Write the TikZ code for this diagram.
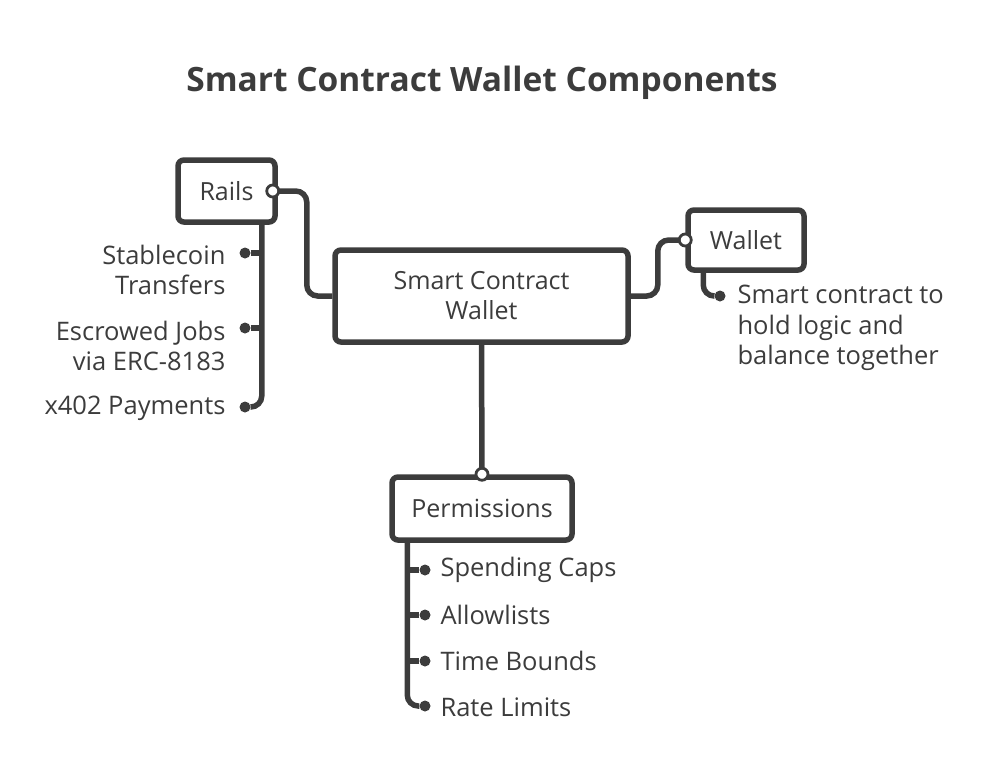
\documentclass[tikz,border=0pt]{standalone}
\usepackage{fontspec}
\setmainfont{Open Sans}
\usetikzlibrary{positioning}
\definecolor{ink}{HTML}{3C3C3C}
\tikzset{
  box/.style={draw=ink, line width=5.5pt, rounded corners=6pt, fill=white,
    font=\fontsize{25}{30}\selectfont, text=ink},
  link/.style={draw=ink, line width=5.5pt, rounded corners=11pt},
  item/.style={font=\fontsize{25.5}{30.5}\selectfont, text=ink},
  dot/.style={circle, fill=ink, inner sep=0pt, minimum size=11pt},
  port/.style={circle, draw=ink, fill=white, line width=2.8pt, inner sep=0pt, minimum size=12pt},
}
\begin{document}
\begin{tikzpicture}[x=1pt, y=-1pt]
    \useasboundingbox (0,0) rectangle (1000,782);

    % Titel
    \node[font=\bfseries\fontsize{33.5}{40}\selectfont, text=ink] (title) at (482,83) {Smart Contract Wallet Components};

    % Boxen
    \node[box, minimum width=293pt, minimum height=92pt, align=center] (scw) at (481.5,296) {Smart Contract\\Wallet};
    \node[box, minimum width=97pt, minimum height=62pt] (rails) at (226.5,191) {Rails};
    \node[box, minimum width=116pt, minimum height=60pt] (wallet) at (746,240) {Wallet};
    \node[box, minimum width=180pt, minimum height=63pt] (perm) at (482,508.5) {Permissions};

    % Verbindungen zur Mitte
    \draw[link] (rails.east) -- ++(29,0) |- (scw.west);
    \draw[link] (scw.east) -- ++(27,0) |- (wallet.west);
    \draw[link] (scw.south) -- (perm.north);

    % Rails
    \coordinate (rstem) at ([xshift=-16pt]rails.south east);
    \node[dot] (r1) at (245,253) {};
    \node[dot] (r2) at (245,328) {};
    \node[dot] (r3) at (245,407) {};
    \draw[link] (rstem) |- (r3);
    \draw[link] (r1) -- (r1 -| rstem);
    \draw[link] (r2) -- (r2 -| rstem);
    \node[item, anchor=east, align=right] (rt1) at (229,270) {Stablecoin\\Transfers};
    \node[item, anchor=east, align=right] (rt2) at (229,346) {Escrowed Jobs\\via ERC-8183};
    \node[item, anchor=east] (rt3) at (229,408) {x402 Payments};

    % Wallet
    \coordinate (wstem) at ([xshift=18pt]wallet.south west);
    \node[dot] (w1) at (720,296) {};
    \draw[link] (wstem) |- (w1);
    \node[item, anchor=west, align=left] (wt1) at (734,328) {Smart contract to\\hold logic and\\balance together};

    % Permissions
    \coordinate (pstem) at ([xshift=18pt]perm.south west);
    \node[dot] (p1) at (425,570) {};
    \node[dot] (p2) at (425,615) {};
    \node[dot] (p3) at (425,661) {};
    \node[dot] (p4) at (425,706) {};
    \draw[link] (pstem) |- (p4);
    \draw[link] (p1) -- (p1 -| pstem);
    \draw[link] (p2) -- (p2 -| pstem);
    \draw[link] (p3) -- (p3 -| pstem);
    \node[item, anchor=west] (pt1) at (437,570) {Spending Caps};
    \node[item, anchor=west] (pt2) at (437,615) {Allowlists};
    \node[item, anchor=west] (pt3) at (437,661) {Time Bounds};
    \node[item, anchor=west] (pt4) at (437,707) {Rate Limits};

    % Anschluesse
    \node[port] (railsport) at ([xshift=-5pt]rails.east) {};
    \node[port] (walletport) at (wallet.west) {};
    \node[port] (permport) at (perm.north) {};
\end{tikzpicture}
\end{document}
